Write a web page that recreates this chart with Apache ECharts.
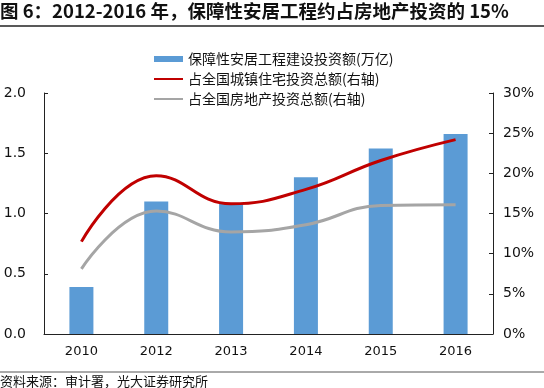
<!DOCTYPE html>
<html><head><meta charset="utf-8">
<script src="https://cdn.jsdelivr.net/npm/echarts@6/dist/echarts.min.js"></script>
<style>html,body{margin:0;padding:0;background:#fff}#c{width:544px;height:388px}</style>
</head><body><div id="c"></div>
<script>
const categories = ['2010','2012','2013','2014','2015','2016'];
const investBar = [0.39, 1.10, 1.08, 1.30, 1.54, 1.66];
const shareUrban = [11.5, 19.7, 16.2, 18.0, 21.6, 24.2];
const shareRealEstate = [8.1, 15.3, 12.7, 13.6, 16.0, 16.1];
const leftTicks = {min:0, max:2, interval:0.5};
const rightTicks = {min:0, max:30, interval:5};
const seriesNames = ['保障性安居工程建设投资额(万亿)','占全国城镇住宅投资总额(右轴)','占全国房地产投资总额(右轴)'];
const titleText = '图 6：2012-2016 年，保障性安居工程约占房地产投资的 15%';
const sourceText = '资料来源：审计署，光大证券研究所';

const chart = echarts.init(document.getElementById('c'));
const numFont = 'DejaVu Sans';
const cjk = '"Noto Sans CJK SC", sans-serif';
chart.setOption({
  animation:false,
  title:{text:titleText,left:0,top:0,padding:[2,0,0,0],textStyle:{fontFamily:cjk,fontSize:18.5,fontWeight:'bold',color:'#111'}},
  graphic:[
    {type:'line',shape:{x1:0,y1:26,x2:544,y2:26},style:{stroke:'#222',lineWidth:1.5}},
    {type:'line',shape:{x1:0,y1:372,x2:544,y2:372},style:{stroke:'#555',lineWidth:1}},
    {type:'text',left:0,top:375,style:{text:sourceText,font:'13px '+cjk,fill:'#111'}}
  ],
  legend:{orient:'vertical',left:148,top:47,itemWidth:29,itemHeight:6,itemGap:6,
    textStyle:{fontFamily:cjk,fontSize:14,color:'#111'},
    data:[{name:seriesNames[0],icon:'rect'},
          {name:seriesNames[1],itemStyle:{opacity:0}},
          {name:seriesNames[2],itemStyle:{opacity:0}}]},
  grid:{left:44,right:51,top:93,bottom:54},
  xAxis:{type:'category',data:categories,
    axisLine:{lineStyle:{color:'#222'}},
    axisTick:{inside:true,length:4,lineStyle:{color:'#222'}},
    axisLabel:{fontFamily:numFont,fontSize:13,color:'#111',margin:11}},
  yAxis:[
    {type:'value',min:leftTicks.min,max:leftTicks.max,interval:leftTicks.interval,
     splitLine:{show:false},axisLine:{show:true,lineStyle:{color:'#222'}},
     axisTick:{show:true,inside:true,length:4,lineStyle:{color:'#222'}},
     axisLabel:{fontFamily:numFont,fontSize:14,color:'#111',margin:18,formatter:v=>v.toFixed(1)}},
    {type:'value',min:rightTicks.min,max:rightTicks.max,interval:rightTicks.interval,position:'right',
     splitLine:{show:false},axisLine:{show:true,lineStyle:{color:'#222'}},
     axisTick:{show:true,inside:true,length:4,lineStyle:{color:'#222'}},
     axisLabel:{fontFamily:numFont,fontSize:14,color:'#111',margin:10,formatter:v=>v+'%'}}
  ],
  series:[
    {name:seriesNames[0],type:'bar',data:investBar,barWidth:24,itemStyle:{color:'#5B9BD5'}},
    {name:seriesNames[1],type:'line',yAxisIndex:1,data:shareUrban,smooth:0.45,symbol:'none',
     lineStyle:{color:'#C00000',width:3},itemStyle:{color:'#C00000'}},
    {name:seriesNames[2],type:'line',yAxisIndex:1,data:shareRealEstate,smooth:0.45,symbol:'none',
     lineStyle:{color:'#A5A5A5',width:3},itemStyle:{color:'#A5A5A5'}}
  ]
});
</script></body></html>
